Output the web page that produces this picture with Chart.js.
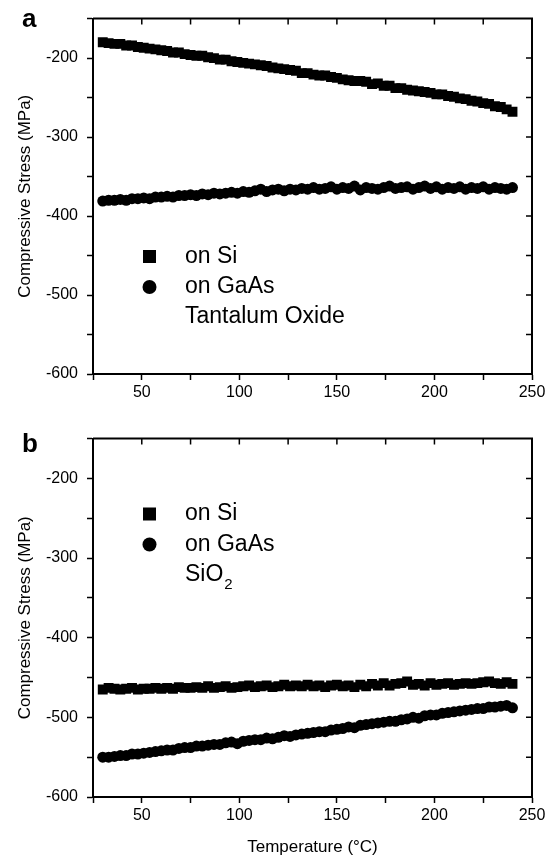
<!DOCTYPE html>
<html>
<head>
<meta charset="utf-8">
<title>Compressive stress vs temperature</title>
<script src="https://cdn.jsdelivr.net/npm/chart.js@4.4.1/dist/chart.umd.min.js"></script>
<style>
html, body { margin: 0; padding: 0; background: #fff; }
#wrap { position: relative; width: 554px; height: 859px; }
canvas { position: absolute; left: 0; }
#chartA { top: 0; }
#chartB { top: 420px; }
</style>
</head>
<body>
<div id="wrap">
  <canvas id="chartA" width="554" height="420"></canvas>
  <canvas id="chartB" width="554" height="439"></canvas>
</div>
<script>
// temperature (C) of each measurement, shared by all four series
var temperature = [30, 33, 36, 39, 42, 45, 48, 51, 54, 57, 60, 63, 66, 69, 72, 75, 78, 81, 84, 87,
    90, 93, 96, 99, 102, 105, 108, 111, 114, 117, 120, 123, 126, 129, 132, 135, 138, 141, 144, 147,
    150, 153, 156, 159, 162, 165, 168, 171, 174, 177, 180, 183, 186, 189, 192, 195, 198, 201, 204, 207,
    210, 213, 216, 219, 222, 225, 228, 231, 234, 237, 240];

// panel a: tantalum oxide
var siTaOx = [-180, -181, -182, -182, -184, -184, -186, -187, -188, -189, -190, -191, -193, -193, -195, -196, -197, -197, -199, -200,
    -202, -202, -204, -205, -206, -207, -208, -209, -210, -212, -213, -214, -215, -216, -219, -219, -221, -222, -222, -224,
    -225, -227, -228, -229, -229, -230, -233, -232, -235, -235, -238, -238, -240, -241, -242, -243, -244, -246, -246, -248,
    -249, -251, -252, -254, -255, -257, -258, -261, -262, -265, -268];
var gaasTaOx = [-381, -380, -380, -379, -380, -378, -378, -377, -378, -376, -376, -375, -376, -374, -374, -373, -374, -372, -373, -371,
    -372, -371, -370, -371, -369, -370, -368, -366, -369, -367, -366, -368, -366, -367, -365, -366, -364, -366, -365, -363,
    -366, -364, -365, -362, -367, -364, -365, -366, -364, -362, -365, -364, -363, -366, -364, -362, -365, -363, -366, -364,
    -365, -363, -366, -364, -365, -363, -366, -364, -365, -366, -364];

// panel b: SiO2
var siSiO2 = [-465, -463, -464, -465, -464, -463, -465, -464, -464, -463, -464, -463, -464, -462, -463, -463, -462, -463, -461, -463,
    -462, -461, -463, -462, -461, -460, -462, -461, -460, -462, -461, -459, -461, -460, -461, -459, -461, -460, -462, -460,
    -459, -461, -460, -462, -459, -461, -458, -460, -457, -460, -458, -457, -455, -459, -458, -460, -457, -459, -458, -457,
    -459, -458, -457, -458, -457, -456, -455, -457, -458, -456, -458];
var gaasSiO2 = [-550, -550, -549, -548, -548, -546, -546, -545, -544, -543, -542, -541, -541, -539, -538, -538, -536, -536, -535, -534,
    -534, -532, -531, -533, -530, -529, -528, -528, -526, -527, -525, -523, -524, -522, -521, -520, -519, -518, -518, -516,
    -515, -514, -512, -513, -510, -509, -508, -507, -506, -505, -505, -503, -502, -500, -501, -498, -497, -497, -495, -494,
    -493, -492, -491, -490, -489, -489, -487, -487, -486, -485, -488];

var xTickLabels = [50, 100, 150, 200, 250];
var yTickLabels = [-600, -500, -400, -300, -200];

var FONT = "'Liberation Sans', Arial, Helvetica, sans-serif";

function toPoints(xs, ys) {
    return xs.map(function (x, i) { return { x: x, y: ys[i] }; });
}

// box frame, mirrored ticks, panel letter and the in-plot legend
var framePlugin = {
    id: 'frame',
    afterDraw: function (chart, args, opts) {
        var ctx = chart.ctx, a = chart.chartArea;
        var xs = chart.scales.x, ys = chart.scales.y;
        ctx.save();
        ctx.strokeStyle = '#000';
        ctx.lineWidth = 2;
        ctx.beginPath();
        ctx.moveTo(a.left, a.top);
        ctx.lineTo(a.right, a.top);
        ctx.lineTo(a.right, a.bottom);
        ctx.stroke();

        ctx.lineWidth = 1.5;
        ctx.beginPath();
        xs.ticks.forEach(function (t) {
            var px = xs.getPixelForValue(t.value);
            if (px <= a.left + 1 || px >= a.right - 1) return;
            ctx.moveTo(px, a.top);
            ctx.lineTo(px, a.top + 6);
        });
        ys.ticks.forEach(function (t) {
            var py = ys.getPixelForValue(t.value);
            if (py <= a.top + 1 || py >= a.bottom - 1) return;
            ctx.moveTo(a.right - 6, py);
            ctx.lineTo(a.right, py);
        });
        ctx.stroke();

        ctx.fillStyle = '#000';
        ctx.textAlign = 'left';
        ctx.textBaseline = 'alphabetic';
        ctx.font = 'bold 26px ' + FONT;
        ctx.fillText(opts.letter, 22, opts.letterY);

        ctx.textBaseline = 'middle';
        opts.rows.forEach(function (r) {
            if (r.marker === 'rect') {
                ctx.fillRect(143, r.y - 6.5, 13, 13);
            } else if (r.marker === 'circle') {
                ctx.beginPath();
                ctx.arc(149.5, r.y, 7, 0, Math.PI * 2);
                ctx.fill();
            }
            ctx.font = '23px ' + FONT;
            ctx.fillText(r.text, 185, r.y);
            if (r.sub) {
                var w = ctx.measureText(r.text).width;
                ctx.font = '15px ' + FONT;
                ctx.fillText(r.sub, 185 + w + 1, r.y + 10);
            }
        });
        ctx.restore();
    }
};

function makePanel(id, siData, gaasData, xHeight, padTop, withXTitle, letter, letterY, rows) {
    var xScale = {
        type: 'linear', min: 25, max: 250,
        afterFit: function (s) { s.height = xHeight; },
        ticks: {
            stepSize: 25, autoSkip: false, maxRotation: 0, padding: 3, color: '#000',
            font: { family: FONT, size: 16 },
            callback: function (v) { return xTickLabels.indexOf(v) >= 0 ? String(v) : ''; }
        },
        grid: { drawOnChartArea: false, drawTicks: true, tickLength: 6, tickWidth: 1.5, tickColor: '#000' },
        border: { color: '#000', width: 2 },
        title: { display: withXTitle, text: 'Temperature (°C)', color: '#000',
            font: { family: FONT, size: 17 }, padding: { top: 0, bottom: 1 } }
    };
    var yScale = {
        type: 'linear', min: -600, max: -150,
        afterFit: function (s) { s.width = 93; },
        ticks: {
            stepSize: 50, autoSkip: false, padding: 9, color: '#000',
            font: { family: FONT, size: 16 },
            callback: function (v) { return yTickLabels.indexOf(v) >= 0 ? String(v) : ''; }
        },
        grid: { drawOnChartArea: false, drawTicks: true, tickLength: 6, tickWidth: 1.5, tickColor: '#000' },
        border: { color: '#000', width: 2 },
        title: { display: true, text: 'Compressive Stress (MPa)', color: '#000',
            font: { family: FONT, size: 17 }, padding: { top: 15, bottom: 0 } }
    };
    return new Chart(document.getElementById(id), {
        type: 'scatter',
        data: {
            datasets: [
                { label: 'on Si', data: toPoints(temperature, siData), pointStyle: 'rect',
                    pointRadius: 7, backgroundColor: '#000', borderColor: '#000', borderWidth: 0 },
                { label: 'on GaAs', data: toPoints(temperature, gaasData), pointStyle: 'circle',
                    pointRadius: 5.5, backgroundColor: '#000', borderColor: '#000', borderWidth: 0 }
            ]
        },
        options: {
            responsive: false,
            animation: false,
            layout: { padding: { top: padTop, right: 22, bottom: 0, left: 0 } },
            scales: { x: xScale, y: yScale },
            plugins: {
                legend: { display: false },
                tooltip: { enabled: false },
                frame: { letter: letter, letterY: letterY, rows: rows }
            }
        },
        plugins: [framePlugin]
    });
}

makePanel('chartA', siTaOx, gaasTaOx, 46, 11, false, 'a', 27, [
    { marker: 'rect', text: 'on Si', y: 256.5 },
    { marker: 'circle', text: 'on GaAs', y: 287 },
    { marker: null, text: 'Tantalum Oxide', y: 317 }
]);

makePanel('chartB', siSiO2, gaasSiO2, 62, 14, true, 'b', 32, [
    { marker: 'rect', text: 'on Si', y: 94 },
    { marker: 'circle', text: 'on GaAs', y: 124.5 },
    { marker: null, text: 'SiO', sub: '2', y: 155 }
]);
</script>
</body>
</html>
